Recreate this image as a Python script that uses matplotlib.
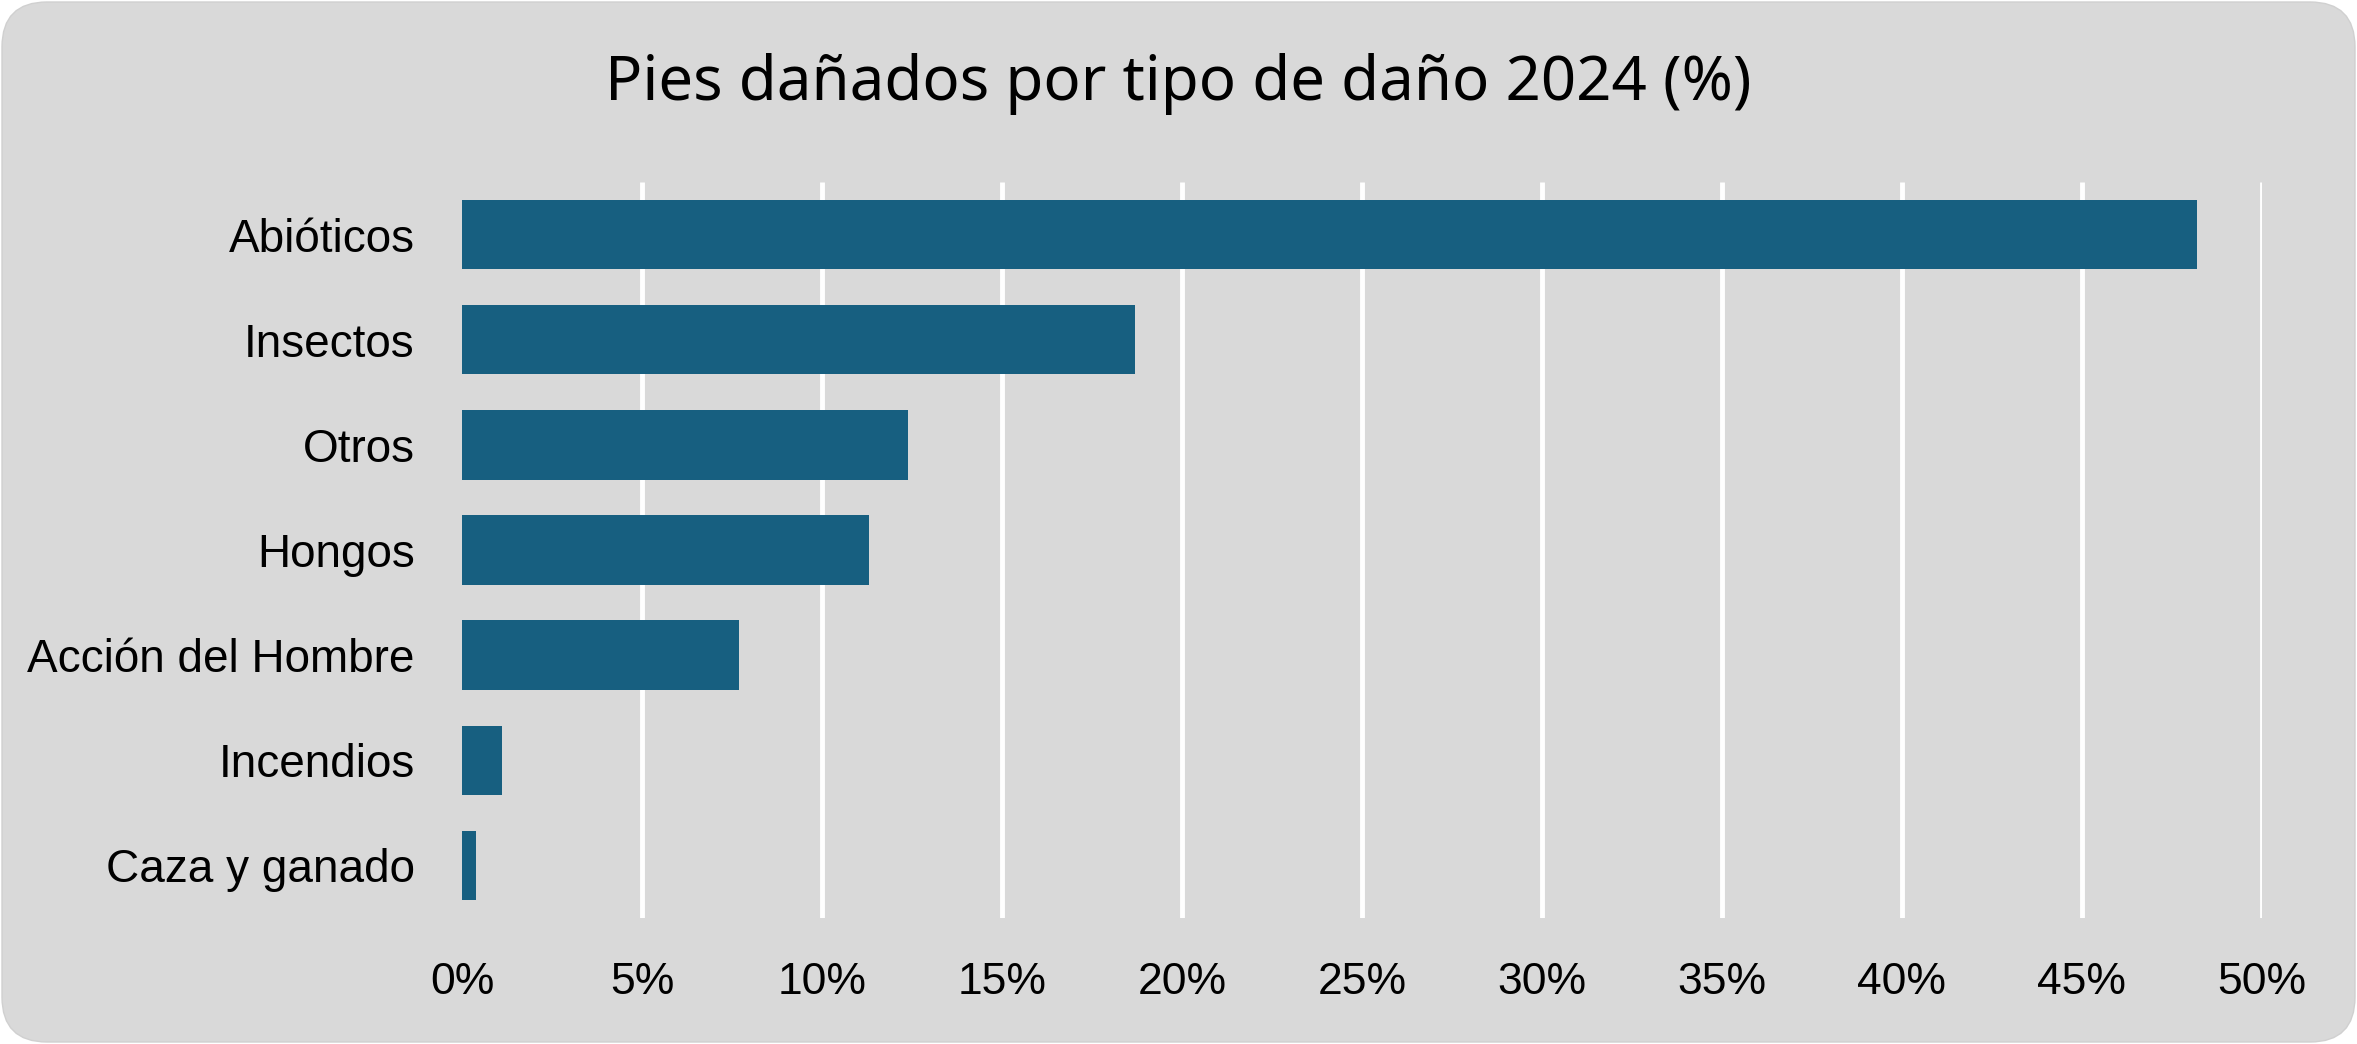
import matplotlib
matplotlib.use("Agg")
import matplotlib.pyplot as plt
from matplotlib.patches import FancyBboxPatch
from matplotlib.transforms import IdentityTransform
import numpy as np

# data
categories = ["Abióticos", "Insectos", "Otros", "Hongos",
              "Acción del Hombre", "Incendios", "Caza y ganado"]
values = [48.2, 18.7, 12.4, 11.3, 7.7, 1.1, 0.4]
xticks = [0, 5, 10, 15, 20, 25, 30, 35, 40, 45, 50]
title = "Pies dañados por tipo de daño 2024 (%)"

W, H, DPI = 2357, 1044, 100
bar_color = "#175f80"
bg_color = "#d9d9d9"

plt.rcParams['font.family'] = ['Liberation Sans', 'DejaVu Sans']

fig = plt.figure(figsize=(W / DPI, H / DPI), dpi=DPI)
fig.patch.set_facecolor("white")

# rounded grey card behind everything
card = FancyBboxPatch((2, 2), W - 4, H - 4,
                      boxstyle="round,pad=0,rounding_size=45",
                      transform=IdentityTransform(),
                      facecolor=bg_color, edgecolor="#d0d0d0", linewidth=1.0,
                      zorder=0)
fig.add_artist(card)

# axes placed in pixel terms: x 462..2262, y 182..918 (from top)
left, right = 462 / W, 2262 / W
bottom, top = 1 - 918 / H, 1 - 182 / H
ax = fig.add_axes([left, bottom, right - left, top - bottom])
ax.set_facecolor("none")

y = np.arange(len(categories))
ax.set_xlim(0, 50)
ax.set_ylim(len(categories) - 0.5, -0.5)

# white gridlines (none at 0%)
ax.vlines(xticks[1:], -0.5, len(categories) - 0.5, colors="white",
          linewidth=3.5, zorder=1)

ax.barh(y, values, height=0.66, color=bar_color, zorder=2)

ax.set_yticks(y)
ax.set_yticklabels(categories, fontsize=33)
ax.set_xticks(xticks)
ax.set_xticklabels(["{}%".format(t) for t in xticks], fontsize=32)
ax.tick_params(axis="y", length=0, pad=34)
ax.tick_params(axis="x", length=0, pad=32)
for s in ax.spines.values():
    s.set_visible(False)

fig.text(0.5, 1 - 84 / H, title, ha="center", va="center", fontsize=44.5,
         family=['Noto Sans', 'DejaVu Sans'])

fig.savefig("out.png", dpi=DPI, facecolor=fig.get_facecolor())
